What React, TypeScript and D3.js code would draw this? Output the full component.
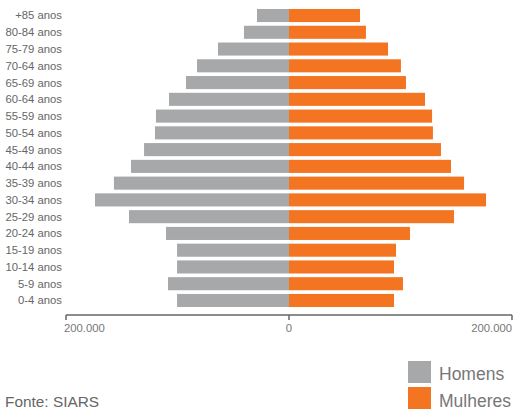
import React, { useEffect, useRef } from "react";
import * as d3 from "d3";

const ageGroups = [
  "+85 anos", "80-84 anos", "75-79 anos", "70-64 anos", "65-69 anos", "60-64 anos",
  "55-59 anos", "50-54 anos", "45-49 anos", "40-44 anos", "35-39 anos", "30-34 anos",
  "25-29 anos", "20-24 anos", "15-19 anos", "10-14 anos", "5-9 anos", "0-4 anos",
];
const homens = [
  28700, 40400, 63700, 82500, 92400, 107600, 119300, 120200, 130000, 141700,
  157000, 174000, 143500, 110300, 100400, 100400, 108500, 100400,
];
const mulheres = [
  63700, 69000, 88800, 100400, 104900, 122000, 128300, 129100, 136300, 145300,
  157000, 176700, 148000, 108500, 96000, 94200, 102200, 94200,
];
const tickValues = [-200000, 0, 200000];
const legendItems = ["Homens", "Mulheres"];

const GRAY = "#a7a8aa";
const ORANGE = "#f47521";
const FONT = "'Liberation Sans', Arial, Helvetica, sans-serif";

const App: React.FC = () => {
  const ref = useRef<SVGSVGElement>(null);

  useEffect(() => {
    if (!ref.current) return;
    const svg = d3.select(ref.current);
    svg.selectAll("*").remove();

    const x = d3.scaleLinear().domain([-200000, 200000]).range([66, 512]);
    const y = d3.scaleBand<string>().domain(ageGroups).range([5.3, 310.7]).padding(0.22);

    // men, drawn to the left
    svg.append("g")
      .selectAll("rect")
      .data(ageGroups)
      .join("rect")
      .attr("x", (_, i) => x(-homens[i]))
      .attr("y", (d) => y(d)!)
      .attr("width", (_, i) => x(0) - x(-homens[i]))
      .attr("height", y.bandwidth())
      .attr("fill", GRAY);

    // women, to the right
    svg.append("g")
      .selectAll("rect")
      .data(ageGroups)
      .join("rect")
      .attr("x", x(0))
      .attr("y", (d) => y(d)!)
      .attr("width", (_, i) => x(mulheres[i]) - x(0))
      .attr("height", y.bandwidth())
      .attr("fill", ORANGE);

    // category labels
    svg.append("g")
      .selectAll("text")
      .data(ageGroups)
      .join("text")
      .attr("x", 62)
      .attr("y", (d) => y(d)! + y.bandwidth() / 2)
      .attr("dy", "0.35em")
      .attr("text-anchor", "end")
      .attr("font-family", FONT)
      .attr("font-size", 11.3)
      .attr("fill", "#666")
      .text((d) => d);

    // axis
    const axisY = 315;
    const axis = svg.append("g");
    axis.append("line")
      .attr("x1", x(-200000)).attr("x2", x(200000))
      .attr("y1", axisY).attr("y2", axisY)
      .attr("stroke", "#666").attr("stroke-width", 1.5);
    axis.selectAll("line.tick")
      .data(tickValues)
      .join("line")
      .attr("class", "tick")
      .attr("x1", (d) => x(d)).attr("x2", (d) => x(d))
      .attr("y1", axisY).attr("y2", axisY + 5)
      .attr("stroke", "#666").attr("stroke-width", 1.5);
    axis.selectAll("text")
      .data(tickValues)
      .join("text")
      .attr("x", (d) => (d < 0 ? x(d) - 2 : x(d)))
      .attr("y", axisY + 17)
      .attr("text-anchor", (d) => (d < 0 ? "start" : d > 0 ? "end" : "middle"))
      .attr("font-family", FONT)
      .attr("font-size", 11.3)
      .attr("fill", "#777")
      .text((d) => d3.format(",")(Math.abs(d)).replace(/,/g, "."));

    // legend
    const legend = svg.append("g");
    legendItems.forEach((name, i) => {
      legend.append("rect")
        .attr("x", 408).attr("y", 361 + i * 26)
        .attr("width", 23).attr("height", 22)
        .attr("fill", i === 0 ? GRAY : ORANGE);
      legend.append("text")
        .attr("x", 439).attr("y", 380 + i * 27)
        .attr("font-family", FONT)
        .attr("font-size", 17.5)
        .attr("fill", "#777")
        .text(name);
    });

    svg.append("text")
      .attr("x", 5).attr("y", 407)
      .attr("font-family", FONT)
      .attr("font-size", 15.4)
      .attr("fill", "#666")
      .text("Fonte: SIARS");
  }, []);

  return (
    <svg
      ref={ref}
      width={513}
      height={411}
      style={{ position: "absolute", left: 0, top: 0, background: "#fff" }}
    />
  );
};

export default App;
